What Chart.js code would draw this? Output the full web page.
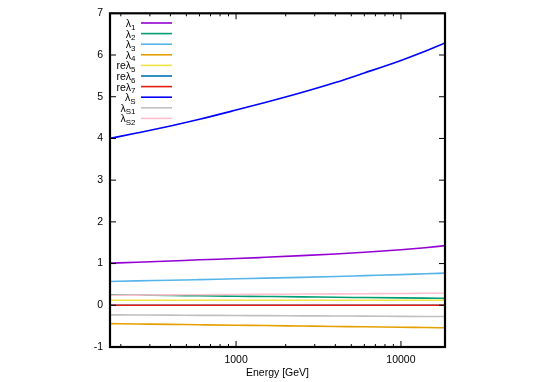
<!DOCTYPE html>
<html>
<head>
<meta charset="utf-8">
<script src="https://cdn.jsdelivr.net/npm/chart.js@4"></script>
<style>
  body { margin: 0; background: #fff; }
  #wrap { width: 545px; height: 382px; }
</style>
</head>
<body>
<div id="wrap"><canvas id="couplingChart" width="545" height="382"></canvas></div>
<script>
// running couplings vs energy
const energies = [172, 250, 400, 600, 1000, 1500, 2500, 4000, 6000, 10000, 14000, 18500];
const lambda1 = [1.01, 1.03, 1.06, 1.09, 1.12, 1.15, 1.19, 1.23, 1.27, 1.33, 1.38, 1.43];
const lambda2 = [0.25, 0.243, 0.235, 0.227, 0.218, 0.211, 0.202, 0.193, 0.186, 0.177, 0.171, 0.166];
const lambda3 = [0.57, 0.585, 0.60, 0.615, 0.635, 0.65, 0.67, 0.69, 0.71, 0.735, 0.755, 0.77];
const lambda4 = [-0.44, -0.448, -0.458, -0.467, -0.478, -0.486, -0.497, -0.507, -0.516, -0.527, -0.534, -0.54];
const reLambda5 = [0.12, 0.12, 0.12, 0.12, 0.12, 0.12, 0.12, 0.12, 0.12, 0.12, 0.12, 0.12];
const reLambda6 = [0, 0, 0, 0, 0, 0, 0, 0, 0, 0, 0, 0];
const reLambda7 = [0, 0, 0, 0, 0, 0, 0, 0, 0, 0, 0, 0];
const lambdaS = [4.00, 4.13, 4.30, 4.46, 4.68, 4.86, 5.10, 5.34, 5.57, 5.87, 6.09, 6.29];
const lambdaS1 = [-0.23, -0.233, -0.237, -0.241, -0.245, -0.249, -0.253, -0.257, -0.26, -0.265, -0.268, -0.27];
const lambdaS2 = [0.24, 0.244, 0.249, 0.253, 0.259, 0.263, 0.269, 0.274, 0.278, 0.283, 0.287, 0.29];

const seriesNames = [['λ', '1'], ['λ', '2'], ['λ', '3'], ['λ', '4'], ['reλ', '5'], ['reλ', '6'], ['reλ', '7'], ['λ', 'S'], ['λ', 'S1'], ['λ', 'S2']];
const seriesValues = [lambda1, lambda2, lambda3, lambda4, reLambda5, reLambda6, reLambda7, lambdaS, lambdaS1, lambdaS2];
const seriesColors = ['#9400d3', '#009e73', '#56b4e9', '#e69f00', '#f0e442', '#0072b2', '#e51e10', '#0000ff', '#c0c0c0', '#ffc0cb'];

const xTickLabels = [1000, 10000];
const xMinorTicks = [200, 300, 400, 500, 600, 700, 800, 900, 2000, 3000, 4000, 5000, 6000, 7000, 8000, 9000];
const yTickLabels = [-1, 0, 1, 2, 3, 4, 5, 6, 7];

const fontFamily = '"Liberation Sans", Arial, sans-serif';

const datasets = seriesValues.map((vals, i) => ({
    label: seriesNames[i].join(''),
    data: energies.map((e, j) => ({ x: e, y: vals[j] })),
    borderColor: seriesColors[i],
    borderWidth: 1.6,
    pointRadius: 0,
    cubicInterpolationMode: 'monotone',
    order: seriesValues.length - i   // later series drawn on top, like gnuplot
}));

// frame, inward ticks and legend (gnuplot look)
const framePlugin = {
    id: 'frame',
    afterDatasetsDraw(chart) {
        const ctx = chart.ctx;
        const a = chart.chartArea;

        // legend
        const lx = a.left + 31;
        const ly = a.top + 9.7;
        const step = 10.6;
        ctx.save();
        seriesNames.forEach((name, i) => {
            const y = ly + i * step;
            ctx.font = '10.5px ' + fontFamily;
            const w1 = ctx.measureText(name[0]).width;
            ctx.font = '8px ' + fontFamily;
            const w2 = ctx.measureText(name[1]).width;
            const textRight = a.left + 25.5;
            ctx.fillStyle = '#000';
            ctx.textBaseline = 'alphabetic';
            ctx.textAlign = 'left';
            ctx.font = '10.5px ' + fontFamily;
            ctx.fillText(name[0], textRight - w1 - w2, y + 4);
            ctx.font = '8px ' + fontFamily;
            ctx.fillText(name[1], textRight - w2, y + 6.5);

            ctx.strokeStyle = seriesColors[i];
            ctx.lineWidth = 1.6;
            ctx.beginPath();
            ctx.moveTo(lx, y);
            ctx.lineTo(lx + 31, y);
            ctx.stroke();
        });
        ctx.restore();
    },
    afterDraw(chart) {
        const ctx = chart.ctx;
        const xs = chart.scales.x;
        const ys = chart.scales.y;
        const a = chart.chartArea;
        ctx.save();
        ctx.strokeStyle = '#000';
        ctx.lineWidth = 1;
        ctx.beginPath();
        yTickLabels.forEach(v => {
            const y = ys.getPixelForValue(v);
            ctx.moveTo(a.left, y); ctx.lineTo(a.left + 6, y);
            ctx.moveTo(a.right, y); ctx.lineTo(a.right - 6, y);
        });
        xTickLabels.forEach(v => {
            const x = xs.getPixelForValue(v);
            ctx.moveTo(x, a.bottom); ctx.lineTo(x, a.bottom - 6);
            ctx.moveTo(x, a.top); ctx.lineTo(x, a.top + 6);
        });
        xMinorTicks.forEach(v => {
            const x = xs.getPixelForValue(v);
            ctx.moveTo(x, a.bottom); ctx.lineTo(x, a.bottom - 3);
            ctx.moveTo(x, a.top); ctx.lineTo(x, a.top + 3);
        });
        ctx.stroke();

        ctx.lineWidth = 2.2;
        ctx.strokeRect(a.left, a.top, a.right - a.left, a.bottom - a.top);
        ctx.restore();
    }
};

function initChart() {
    const el = document.getElementById('couplingChart');
    new Chart(el.getContext('2d'), {
        type: 'line',
        data: { datasets: datasets },
        options: {
            responsive: false,
            animation: false,
            layout: { padding: { left: 0, right: 100, top: 13, bottom: 0 } },
            plugins: {
                legend: { display: false },
                tooltip: { enabled: false }
            },
            scales: {
                x: {
                    type: 'logarithmic',
                    min: 172,
                    max: 18500,
                    grid: { display: false, drawTicks: false },
                    border: { display: false },
                    afterBuildTicks: s => { s.ticks = xTickLabels.map(v => ({ value: v })); },
                    afterFit: s => { s.height = 35; },
                    ticks: {
                        color: '#000',
                        autoSkip: false,
                        maxRotation: 0,
                        padding: 7,
                        font: { family: fontFamily, size: 10.5 },
                        callback: v => String(v)
                    },
                    title: {
                        display: true,
                        text: 'Energy [GeV]',
                        color: '#000',
                        padding: { top: 0, bottom: 3 },
                        font: { family: fontFamily, size: 10.5 }
                    }
                },
                y: {
                    min: -1,
                    max: 7,
                    grid: { display: false, drawTicks: false },
                    border: { display: false },
                    afterBuildTicks: s => { s.ticks = yTickLabels.map(v => ({ value: v })); },
                    afterFit: s => { s.width = 110; },
                    ticks: {
                        color: '#000',
                        autoSkip: false,
                        padding: 7,
                        font: { family: fontFamily, size: 10.5 },
                        callback: v => String(v)
                    }
                }
            }
        },
        plugins: [framePlugin]
    });
}

initChart();
</script>
</body>
</html>
